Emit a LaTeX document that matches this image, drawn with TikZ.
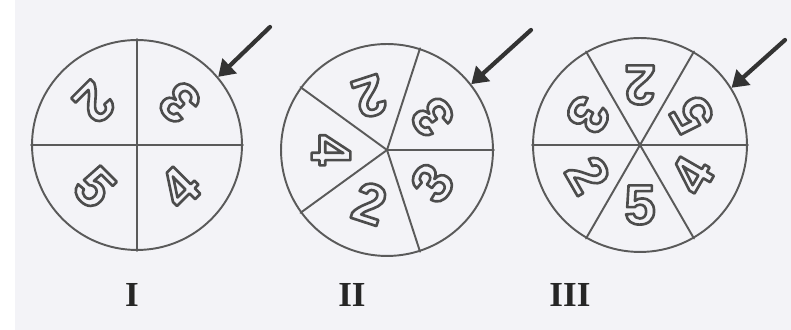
\documentclass[tikz,border=0pt]{standalone}
\usepackage{fontspec}
\setmainfont{Liberation Serif}
\setsansfont{Liberation Sans}
\usetikzlibrary{arrows.meta,positioning,calc}
\definecolor{paper}{HTML}{F3F3F7}
\definecolor{ink}{HTML}{5A5A5A}
% hollow (stroke-only) digits
\newcommand\hollow[1]{\special{pdf:literal direct 1 Tr 1.5 w 0.3 G}#1\special{pdf:literal direct 0 Tr}}

\begin{document}
\begin{tikzpicture}[x=0.02cm, y=0.02cm, line cap=round, line join=round,
  wheel/.style={circle, draw=ink, line width=1.1pt, minimum size=#1, inner sep=0pt},
  spoke/.style={draw=ink, line width=1.1pt},
  num/.style={font=\sffamily\bfseries\fontsize{32}{32}\selectfont, inner sep=0pt},
  pointer/.style={-{Triangle[length=0.32cm,width=0.4cm]}, line width=2.4pt, draw=black!80},
  tag/.style={font=\rmfamily\bfseries\fontsize{20}{20}\selectfont, text=black!85}]

\fill[paper] (0,0) rectangle (791,330);
\fill[white] (0,0) rectangle (15,330);
\useasboundingbox (0,0) rectangle (791,330);

% spinner I
\node[wheel=4.2cm] (cI) at (137,185) {};
\foreach \a in {0,90,180,270}
  \draw[spoke] (cI.center) -- (cI.\a);
\foreach \d/\a [count=\i] in {3/45, 2/135, 5/225, 4/315}
  \node[num, rotate=\a+90] (nI\i) at ($(cI.center)+(\a:60)$) {\hollow{\d}};

% spinner II
\node[wheel=4.24cm] (cII) at (387,180) {};
\foreach \a in {0,72,...,288}
  \draw[spoke] (cII.center) -- (cII.\a);
\foreach \d/\a [count=\i] in {3/36, 2/108, 4/180, 2/252, 3/324}
  \node[num, rotate=\a+90] (nII\i) at ($(cII.center)+(\a:56)$) {\hollow{\d}};

% spinner III
\node[wheel=4.28cm] (cIII) at (640,185) {};
\foreach \a in {0,60,...,300}
  \draw[spoke] (cIII.center) -- (cIII.\a);
\foreach \d/\a [count=\i] in {5/30, 2/90, 3/150, 2/210, 5/270, 4/330}
  \node[num, rotate=\a+90] (nIII\i) at ($(cIII.center)+(\a:60)$) {\hollow{\d}};

% arrows
\coordinate (tI) at (270,303);
\coordinate (tII) at (531,300);
\coordinate (tIII) at (785,290);
\draw[pointer] (tI) -- (cI.40);
\draw[pointer] (tII) -- (cII.38);
\draw[pointer] (tIII) -- (cIII.32);

% labels
\node[tag] (lI) at (132,35) {I};
\node[tag] (lII) at (352,35) {II};
\node[tag] (lIII) at (570,35) {III};

\end{tikzpicture}
\end{document}
